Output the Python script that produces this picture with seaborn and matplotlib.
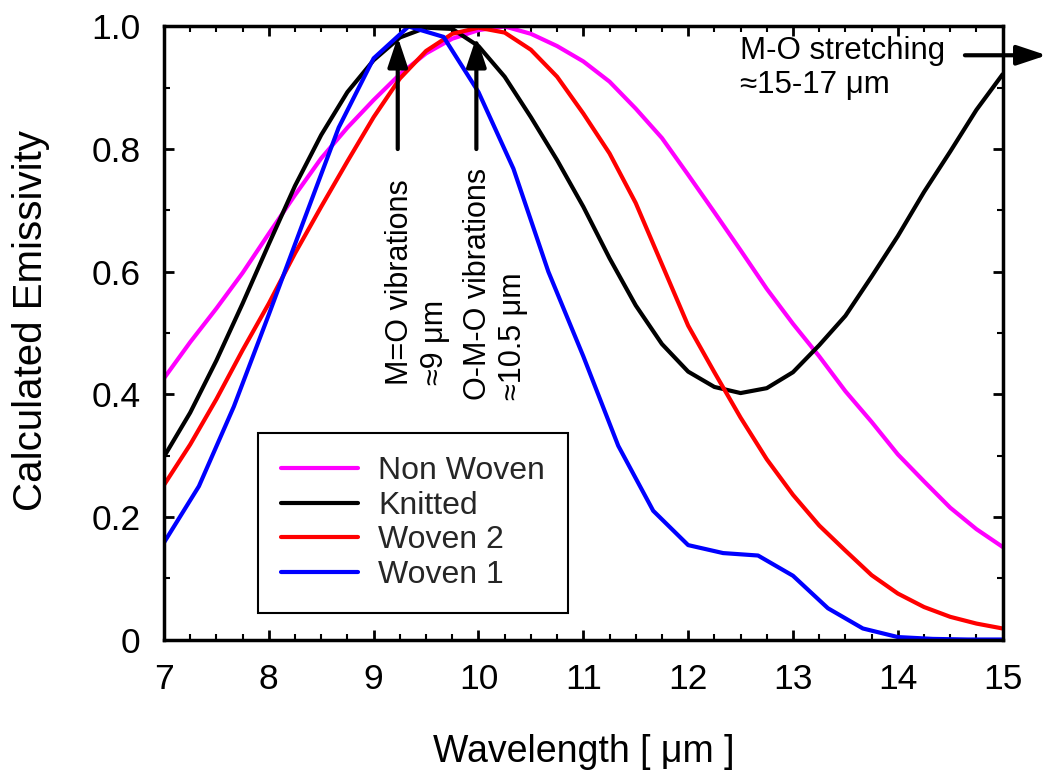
import numpy as np
import pandas as pd
import matplotlib
matplotlib.use("Agg")
import matplotlib.pyplot as plt
import seaborn as sns
from matplotlib.ticker import MultipleLocator, FuncFormatter

# Wavelength grids (µm)
wl_fine = np.linspace(7.0, 15.0, 33)
wl_coarse = np.linspace(7.0, 15.0, 25)

# Calculated emissivity of each fabric
non_woven = [0.426, 0.485, 0.540, 0.598, 0.662, 0.725, 0.785, 0.835, 0.880, 0.922,
             0.956, 0.980, 0.994, 1.000, 0.988, 0.968, 0.943, 0.910, 0.866, 0.818,
             0.758, 0.697, 0.635, 0.572, 0.515, 0.462, 0.405, 0.355, 0.302, 0.258,
             0.215, 0.180, 0.151]
knitted = [0.298, 0.370, 0.455, 0.548, 0.645, 0.740, 0.823, 0.893, 0.945, 0.982,
           0.998, 0.996, 0.968, 0.918, 0.852, 0.782, 0.706, 0.622, 0.545, 0.482,
           0.437, 0.412, 0.402, 0.410, 0.436, 0.480, 0.528, 0.592, 0.658, 0.730,
           0.796, 0.864, 0.922]
woven2 = [0.252, 0.318, 0.392, 0.472, 0.548, 0.630, 0.706, 0.780, 0.852, 0.915,
          0.960, 0.988, 0.998, 0.990, 0.962, 0.918, 0.858, 0.793, 0.712, 0.612,
          0.512, 0.436, 0.362, 0.294, 0.236, 0.186, 0.145, 0.105, 0.075, 0.053,
          0.037, 0.026, 0.018]
woven1 = [0.158, 0.250, 0.380, 0.530, 0.683, 0.835, 0.948, 1.000, 0.983, 0.893,
          0.768, 0.600, 0.462, 0.316, 0.210, 0.154, 0.141, 0.137, 0.104, 0.051,
          0.018, 0.004, 0.001, 0.000, 0.000]

series_names = ["Non Woven", "Knitted", "Woven 2", "Woven 1"]
series_colors = ["#FF00FF", "#000000", "#FF0000", "#0000FF"]

x_ticks = [7, 8, 9, 10, 11, 12, 13, 14, 15]
y_ticks = [0.0, 0.2, 0.4, 0.6, 0.8, 1.0]

frames = [
    pd.DataFrame({"wl": wl_fine, "eps": non_woven, "sample": "Non Woven"}),
    pd.DataFrame({"wl": wl_fine, "eps": knitted, "sample": "Knitted"}),
    pd.DataFrame({"wl": wl_fine, "eps": woven2, "sample": "Woven 2"}),
    pd.DataFrame({"wl": wl_coarse, "eps": woven1, "sample": "Woven 1"}),
]
df = pd.concat(frames, ignore_index=True)

sns.set_theme(style="ticks")
plt.rcParams["font.family"] = ["Liberation Sans", "DejaVu Sans"]

fig = plt.figure(figsize=(10.51, 7.78), dpi=100)
ax = fig.add_axes([0.156, 0.178, 0.798, 0.788])

sns.lineplot(data=df, x="wl", y="eps", hue="sample", hue_order=series_names,
             palette=series_colors, linewidth=3.0, ax=ax, estimator=None,
             sort=False)

ax.set_xlim(7, 15)
ax.set_ylim(0, 1)
ax.set_xticks(x_ticks)
ax.set_yticks(y_ticks)
ax.xaxis.set_minor_locator(MultipleLocator(0.25))
ax.yaxis.set_minor_locator(MultipleLocator(0.1))
ax.yaxis.set_major_formatter(FuncFormatter(lambda v, p: "0" if abs(v) < 1e-9 else f"{v:.1f}"))
ax.xaxis.set_major_formatter(FuncFormatter(lambda v, p: f"{v:.0f}"))

for s in ax.spines.values():
    s.set_linewidth(2.5)
    s.set_color("black")
ax.tick_params(which="both", direction="in", top=True, right=True, color="black")
ax.tick_params(which="major", length=7, width=2, labelsize=25.5, pad=17, labelcolor="black")
ax.tick_params(which="minor", length=4, width=1.5)

ax.set_xlabel("Wavelength [ μm ]", fontsize=27, color="black", va="center")
ax.set_ylabel("Calculated Emissivity", fontsize=29, color="black", va="center")
ax.xaxis.set_label_coords(0.5, -0.184)
ax.yaxis.set_label_coords(-0.158, 0.52)

handles, labels = ax.get_legend_handles_labels()
leg = ax.legend(handles, labels, loc="upper left", bbox_to_anchor=(0.112, 0.337),
                borderaxespad=0, fontsize=23, frameon=True, fancybox=False,
                edgecolor="black", framealpha=1, handlelength=2.4,
                handletextpad=0.65, labelspacing=0.15, borderpad=0.72)
leg.get_frame().set_linewidth(1.5)
for h in leg.get_lines():
    h.set_linewidth(3.0)

arrow_style = dict(arrowstyle="-|>,head_length=0.9,head_width=0.3", lw=3,
                   color="black", shrinkA=0, shrinkB=0, mutation_scale=20)

# Band markers
ax.annotate("", xy=(9.23, 0.983), xytext=(9.23, 0.80), arrowprops=arrow_style)
ax.annotate("", xy=(9.98, 0.983), xytext=(9.98, 0.80), arrowprops=arrow_style)
ax.annotate("", xy=(15.42, 0.953), xytext=(14.64, 0.953), arrowprops=arrow_style,
            annotation_clip=False)

ax.text(9.42, 0.415, "M=O vibrations\n≈9 μm", rotation=90, fontsize=22,
        ha="center", va="bottom", multialignment="left", color="black")
ax.text(10.165, 0.391, "O-M-O vibrations\n≈10.5 μm", rotation=90, fontsize=22,
        ha="center", va="bottom", multialignment="left", color="black")
ax.text(12.49, 0.985, "M-O stretching\n≈15-17 μm", fontsize=22.5, ha="left",
        va="top", color="black")

fig.savefig("out.png", dpi=100)
